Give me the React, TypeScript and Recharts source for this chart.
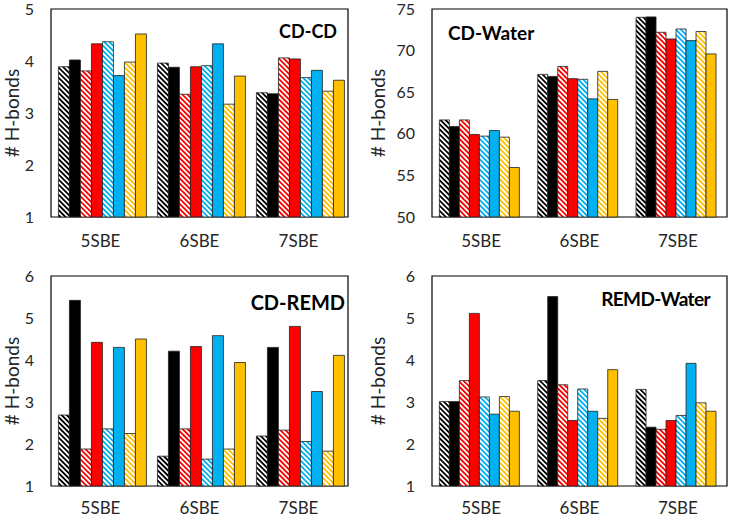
import { BarChart, Bar, XAxis, YAxis, ReferenceArea } from 'recharts'

const categories = ['5SBE', '6SBE', '7SBE']

// one row per series, one value per category (5SBE, 6SBE, 7SBE)
const cdCdValues = [
  [3.89, 3.96, 3.39],
  [4.02, 3.88, 3.37],
  [3.81, 3.36, 4.06],
  [4.33, 3.89, 4.04],
  [4.37, 3.91, 3.68],
  [3.72, 4.33, 3.82],
  [3.98, 3.17, 3.42],
  [4.52, 3.71, 3.63],
]

const cdWaterValues = [
  [61.67, 67.14, 74.0],
  [60.87, 66.9, 74.05],
  [61.67, 68.1, 72.2],
  [59.92, 66.63, 71.4],
  [59.72, 66.55, 72.6],
  [60.4, 64.2, 71.2],
  [59.6, 67.5, 72.3],
  [55.95, 64.13, 69.6],
]

const cdRemdValues = [
  [2.69, 1.71, 2.19],
  [5.42, 4.21, 4.3],
  [1.88, 2.36, 2.33],
  [4.42, 4.32, 4.8],
  [2.36, 1.64, 2.06],
  [4.3, 4.58, 3.25],
  [2.25, 1.88, 1.83],
  [4.5, 3.94, 4.11],
]

const remdWaterValues = [
  [3.01, 3.51, 3.3],
  [3.01, 5.51, 2.4],
  [3.51, 3.41, 2.35],
  [5.11, 2.56, 2.56],
  [3.12, 3.31, 2.68],
  [2.71, 2.78, 3.92],
  [3.13, 2.61, 2.98],
  [2.78, 3.77, 2.78],
]

const ticksOneToFive = [1, 2, 3, 4, 5]
const ticksOneToSix = [1, 2, 3, 4, 5, 6]
const ticksWater = [50, 55, 60, 65, 70, 75]

const seriesKeys = ['s1', 's2', 's3', 's4', 's5', 's6', 's7', 's8']

const seriesStyle = [
  { color: '#000000', hatched: true },
  { color: '#000000', hatched: false },
  { color: '#FF0000', hatched: true },
  { color: '#FF0000', hatched: false },
  { color: '#00B0F0', hatched: true },
  { color: '#00B0F0', hatched: false },
  { color: '#FFC000', hatched: true },
  { color: '#FFC000', hatched: false },
]

const FONT = "Lato, 'Open Sans', sans-serif"

function toRows(values: number[][]) {
  return categories.map((name, i) => {
    const row: Record<string, string | number> = { name }
    seriesKeys.forEach((k, j) => {
      row[k] = values[j][i]
    })
    return row
  })
}

interface PanelProps {
  values: number[][]
  domain: [number, number]
  ticks: number[]
  title: string
  titleStyle: React.CSSProperties
  left: number
  top: number
  width: number
  height: number
  marginTop: number
  marginRight: number
  yWidth: number
  xHeight: number
  tickGap: number
  labelOffset: number
}

function Panel(p: PanelProps) {
  const data = toRows(p.values)
  return (
    <div style={{ position: 'absolute', left: p.left, top: p.top, width: p.width, height: p.height }}>
      <BarChart
        width={p.width}
        height={p.height}
        data={data}
        margin={{ top: p.marginTop, right: p.marginRight, left: 0, bottom: 0 }}
        barCategoryGap="7.5%"
        barGap={0}
        style={{ overflow: 'visible' }}
      >
        <XAxis
          dataKey="name"
          axisLine={false}
          tickLine={false}
          tickSize={0}
          tickMargin={p.tickGap}
          height={p.xHeight}
          tick={{ fontSize: 17, fill: '#262626', fontFamily: FONT }}
        />
        <YAxis
          domain={p.domain}
          ticks={p.ticks}
          interval={0}
          axisLine={false}
          tickLine={false}
          tickSize={0}
          tickMargin={17}
          width={p.yWidth}
          tick={{ fontSize: 16, fill: '#262626', fontFamily: FONT }}
          label={{
            value: '# H-bonds',
            angle: -90,
            position: 'insideLeft',
            offset: p.labelOffset,
            style: { textAnchor: 'middle', fontSize: 19, fill: '#262626', fontFamily: FONT },
          }}
        />
        {seriesKeys.map((k, j) => (
          <Bar
            key={k}
            dataKey={k}
            fill={seriesStyle[j].hatched ? `url(#hatch-${k})` : seriesStyle[j].color}
            stroke="#222"
            strokeWidth={0.8}
            isAnimationActive={false}
          />
        ))}
        <ReferenceArea
          y1={p.domain[0]}
          y2={p.domain[1]}
          fill="none"
          stroke="#000"
          strokeWidth={1.2}
          ifOverflow="visible"
        />
      </BarChart>
      <div
        style={{
          position: 'absolute',
          fontFamily: FONT,
          fontWeight: 700,
          color: '#000',
          whiteSpace: 'nowrap',
          lineHeight: 1,
          ...p.titleStyle,
        }}
      >
        {p.title}
      </div>
    </div>
  )
}

export default function App() {
  return (
    <div style={{ position: 'absolute', left: 0, top: 0, width: 731, height: 517, background: '#fff' }}>
      <svg width={0} height={0} style={{ position: 'absolute' }}>
        <defs>
          {seriesKeys.map((k, j) =>
            seriesStyle[j].hatched ? (
              <pattern
                key={k}
                id={`hatch-${k}`}
                width={3.6}
                height={3.6}
                patternUnits="userSpaceOnUse"
                patternTransform="rotate(-45)"
              >
                <rect width={3.6} height={3.6} fill="#fff" />
                <rect width={1.8} height={3.6} fill={seriesStyle[j].color} />
              </pattern>
            ) : null
          )}
        </defs>
      </svg>
      <Panel
        values={cdCdValues}
        domain={[1, 5]}
        ticks={ticksOneToFive}
        title="CD-CD"
        titleStyle={{ right: 28, top: 22, fontSize: 18 }}
        left={0}
        top={0}
        width={365}
        height={258}
        marginTop={9}
        marginRight={17}
        yWidth={51}
        xHeight={41}
        tickGap={18}
        labelOffset={12}
      />
      <Panel
        values={cdWaterValues}
        domain={[50, 75]}
        ticks={ticksWater}
        title="CD-Water"
        titleStyle={{ left: 83, top: 23, fontSize: 19 }}
        left={365}
        top={0}
        width={366}
        height={258}
        marginTop={9}
        marginRight={4}
        yWidth={67}
        xHeight={41}
        tickGap={18}
        labelOffset={13}
      />
      <Panel
        values={cdRemdValues}
        domain={[1, 6]}
        ticks={ticksOneToSix}
        title="CD-REMD"
        titleStyle={{ right: 20, top: 34, fontSize: 20 }}
        left={0}
        top={258}
        width={365}
        height={259}
        marginTop={18}
        marginRight={17}
        yWidth={51}
        xHeight={31}
        tickGap={16}
        labelOffset={12}
      />
      <Panel
        values={remdWaterValues}
        domain={[1, 6]}
        ticks={ticksOneToSix}
        title="REMD-Water"
        titleStyle={{ right: 21, top: 31, fontSize: 19, letterSpacing: -0.6 }}
        left={365}
        top={258}
        width={366}
        height={259}
        marginTop={18}
        marginRight={4}
        yWidth={67}
        xHeight={31}
        tickGap={16}
        labelOffset={13}
      />
    </div>
  )
}
